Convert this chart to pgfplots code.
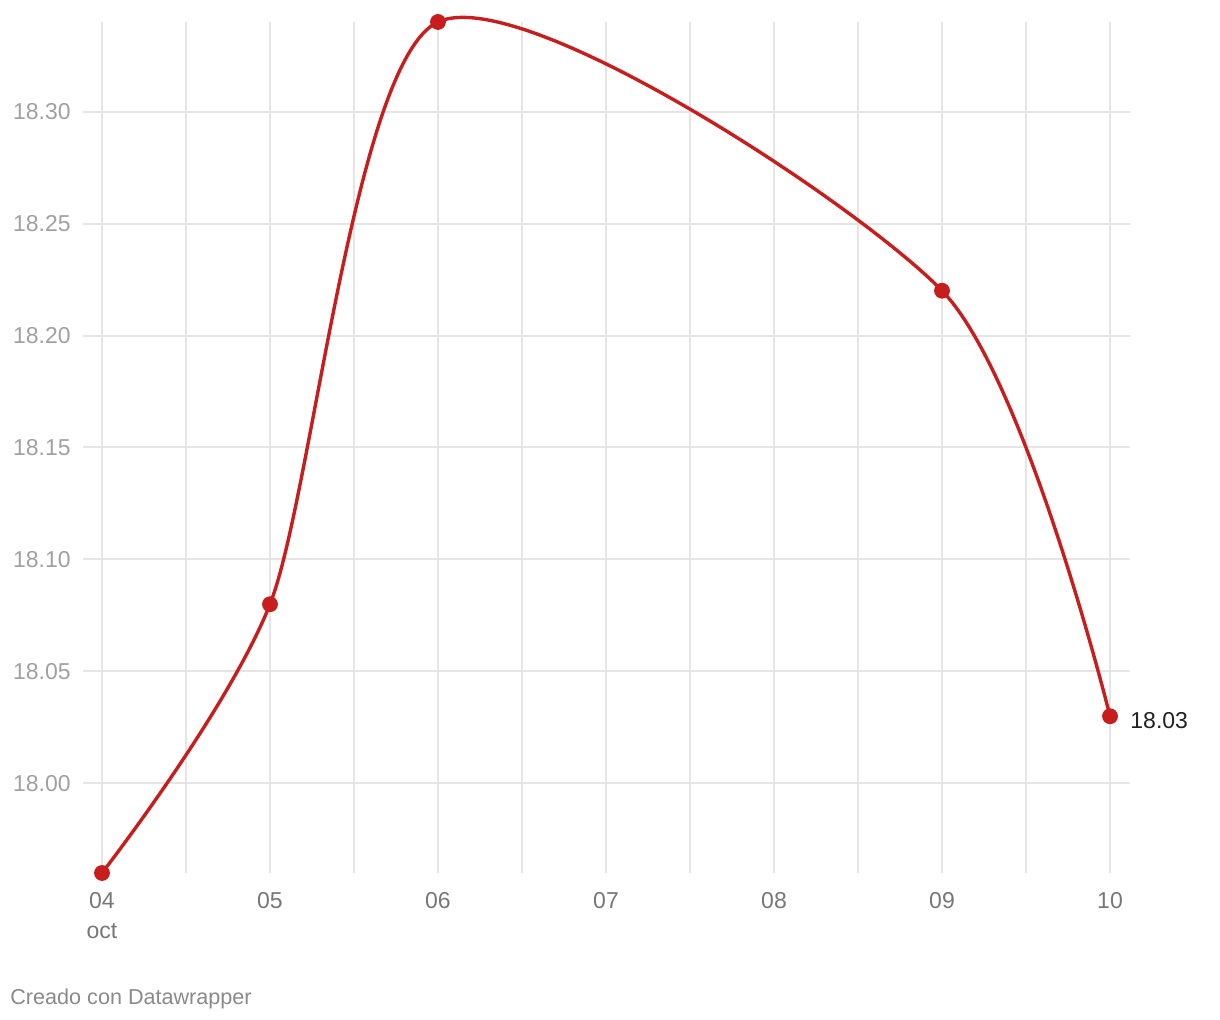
\documentclass[border=0pt]{standalone}
\usepackage{pgfplots}
\pgfplotsset{compat=1.18}
\usepackage{fontspec}
\setmainfont{Liberation Sans}
\definecolor{dwred}{HTML}{C71E1D}
\definecolor{gridc}{HTML}{E5E5E5}
\definecolor{ylab}{HTML}{A0A0A0}
\definecolor{xlab}{HTML}{777777}
\definecolor{foot}{HTML}{8A8A8A}
\begin{document}
\begin{tikzpicture}[x=1pt,y=1pt]
\path[use as bounding box] (0,0) rectangle (610,510);
\begin{axis}[
  at={(41.5pt,73.5pt)}, anchor=south west,
  scale only axis, width=523.5pt, height=425.5pt,
  xmin=3.887, xmax=10.119, ymin=17.96, ymax=18.34,
  axis line style={draw=none},
  major tick length=0pt, minor tick length=0pt,
  xtick={4,5,6,7,8,9,10},
  xticklabels={{04\\oct},05,06,07,08,09,10},
  minor xtick={4.5,5.5,6.5,7.5,8.5,9.5},
  ytick={18,18.05,18.1,18.15,18.2,18.25,18.3},
  yticklabels={18.00,18.05,18.10,18.15,18.20,18.25,18.30},
  xmajorgrids, xminorgrids, ymajorgrids,
  grid style={gridc, line width=1pt},
  major grid style={gridc, line width=1pt},
  minor grid style={gridc, line width=1pt},
  xticklabel style={anchor=north, inner sep=0pt, yshift=-9.4pt, align=center,
    font=\fontsize{11.5}{15}\selectfont, text=xlab},
  yticklabel style={anchor=east, inner sep=0pt, xshift=-6pt,
    font=\fontsize{11.5}{14}\selectfont, text=ylab},
  clip=false,
]
\addplot[dwred, line width=1.7pt, smooth, tension=0.45, mark=*, mark size=3.1pt,
  mark options={fill=dwred, draw=none}]
  coordinates {(4,17.96) (5,18.08) (6,18.34) (9,18.22) (10,18.03)};
\node[anchor=west, inner sep=0pt, text=black!87, font=\fontsize{11.5}{14}\selectfont]
  at (axis cs:10,18.03) [xshift=10pt, yshift=-2pt] {18.03};
\end{axis}
\node[anchor=base west, inner sep=0pt, text=foot, font=\fontsize{10.8}{12}\selectfont]
  at (5,7.5) {Creado con Datawrapper};
\end{tikzpicture}
\end{document}
